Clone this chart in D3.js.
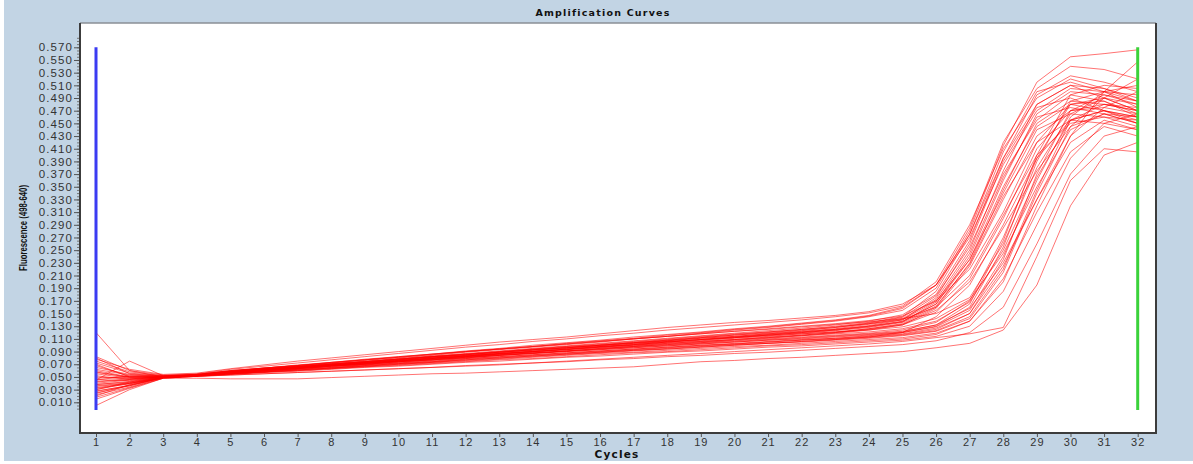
<!DOCTYPE html>
<html><head><meta charset="utf-8">
<script src="https://cdn.jsdelivr.net/npm/d3@7"></script>
<style>html,body{margin:0;padding:0;background:#fff;} svg{display:block}</style>
</head><body><svg id="c" width="1193" height="464"></svg>
<script>
// ---------- DATA ----------
const cycles = [1,2,3,4,5,6,7,8,9,10,11,12,13,14,15,16,17,18,19,20,21,22,23,24,25,26,27,28,29,30,31,32];
const yTickLabels = [0.010,0.030,0.050,0.070,0.090,0.110,0.130,0.150,0.170,0.190,0.210,0.230,0.250,0.270,0.290,0.310,0.330,0.350,0.370,0.390,0.410,0.430,0.450,0.470,0.490,0.510,0.530,0.550,0.570];
const titleText = "Amplification Curves";
const xTitle = "Cycles";
const yTitle = "Fluorescence (498-640)";

// early-rising wells
const curveA1  = [0.080,0.055,0.051,0.054,0.060,0.064,0.068,0.072,0.076,0.080,0.084,0.089,0.093,0.097,0.101,0.105,0.110,0.114,0.119,0.124,0.128,0.133,0.138,0.145,0.155,0.190,0.280,0.415,0.515,0.555,0.560,0.566];
const curveA2  = [0.070,0.050,0.050,0.053,0.059,0.063,0.067,0.071,0.075,0.079,0.083,0.087,0.091,0.095,0.099,0.103,0.107,0.111,0.115,0.119,0.123,0.127,0.132,0.138,0.148,0.180,0.265,0.395,0.495,0.525,0.515,0.500];
const curveA3  = [0.040,0.045,0.049,0.053,0.058,0.062,0.066,0.070,0.073,0.077,0.081,0.085,0.089,0.092,0.096,0.100,0.104,0.108,0.112,0.116,0.119,0.123,0.128,0.134,0.142,0.172,0.250,0.375,0.480,0.510,0.505,0.490];
const curveA4  = [0.030,0.042,0.050,0.052,0.057,0.061,0.064,0.068,0.072,0.075,0.079,0.083,0.086,0.090,0.094,0.098,0.101,0.105,0.109,0.113,0.116,0.120,0.124,0.130,0.138,0.165,0.240,0.360,0.465,0.500,0.495,0.480];
const curveA5  = [0.055,0.048,0.050,0.053,0.058,0.062,0.066,0.069,0.073,0.077,0.081,0.084,0.088,0.092,0.096,0.099,0.103,0.107,0.111,0.114,0.118,0.122,0.126,0.133,0.140,0.175,0.260,0.390,0.475,0.490,0.470,0.455];
const curveA6  = [0.020,0.038,0.049,0.052,0.056,0.060,0.063,0.067,0.070,0.074,0.077,0.081,0.084,0.088,0.091,0.095,0.098,0.102,0.105,0.109,0.112,0.116,0.120,0.126,0.134,0.160,0.230,0.345,0.450,0.485,0.480,0.470];
const curveA7  = [0.045,0.052,0.051,0.053,0.059,0.063,0.067,0.071,0.074,0.078,0.082,0.086,0.090,0.094,0.098,0.101,0.105,0.109,0.113,0.117,0.121,0.125,0.130,0.136,0.145,0.185,0.275,0.405,0.500,0.515,0.500,0.485];
const curveA8  = [0.035,0.040,0.050,0.052,0.057,0.061,0.065,0.068,0.072,0.076,0.079,0.083,0.087,0.090,0.094,0.098,0.101,0.105,0.109,0.112,0.116,0.120,0.124,0.129,0.137,0.168,0.245,0.365,0.460,0.475,0.465,0.450];
const curveA9  = [0.062,0.053,0.051,0.054,0.060,0.064,0.068,0.072,0.077,0.081,0.085,0.090,0.094,0.098,0.103,0.107,0.111,0.116,0.120,0.125,0.129,0.134,0.139,0.146,0.158,0.195,0.270,0.385,0.470,0.505,0.500,0.475];
const curveA10 = [0.028,0.036,0.049,0.052,0.056,0.060,0.063,0.067,0.070,0.073,0.077,0.080,0.084,0.087,0.091,0.094,0.098,0.101,0.104,0.108,0.111,0.115,0.119,0.124,0.132,0.158,0.225,0.330,0.430,0.470,0.475,0.465];
const curveA11 = [0.050,0.047,0.050,0.053,0.058,0.062,0.065,0.069,0.073,0.076,0.080,0.084,0.087,0.091,0.095,0.098,0.102,0.106,0.109,0.113,0.117,0.121,0.125,0.131,0.140,0.170,0.235,0.340,0.440,0.465,0.460,0.445];
const curveA12 = [0.075,0.058,0.052,0.054,0.060,0.064,0.069,0.073,0.078,0.082,0.086,0.091,0.095,0.100,0.104,0.108,0.113,0.117,0.121,0.126,0.130,0.135,0.140,0.147,0.160,0.195,0.285,0.420,0.505,0.540,0.535,0.520];
const curveA13 = [0.038,0.043,0.050,0.053,0.058,0.061,0.065,0.069,0.072,0.076,0.080,0.083,0.087,0.090,0.094,0.097,0.101,0.105,0.108,0.112,0.116,0.119,0.123,0.128,0.136,0.162,0.228,0.335,0.420,0.455,0.450,0.440];
const curveA14 = [0.048,0.050,0.050,0.053,0.059,0.063,0.066,0.070,0.074,0.078,0.082,0.085,0.089,0.093,0.097,0.100,0.104,0.108,0.112,0.116,0.120,0.124,0.128,0.135,0.144,0.178,0.255,0.370,0.455,0.495,0.485,0.460];
const curveA15 = [0.082,0.060,0.053,0.055,0.062,0.067,0.072,0.077,0.082,0.087,0.092,0.097,0.101,0.106,0.110,0.115,0.119,0.124,0.128,0.132,0.136,0.140,0.145,0.151,0.162,0.200,0.290,0.410,0.490,0.520,0.505,0.485];
const curveA16 = [0.078,0.062,0.054,0.056,0.063,0.069,0.075,0.080,0.085,0.090,0.095,0.100,0.105,0.109,0.113,0.118,0.123,0.128,0.132,0.136,0.139,0.143,0.147,0.153,0.165,0.195,0.275,0.395,0.480,0.510,0.490,0.470];
// mid-rising wells
const curveC1  = [0.052,0.046,0.050,0.053,0.057,0.061,0.065,0.068,0.072,0.075,0.079,0.082,0.086,0.089,0.093,0.096,0.099,0.103,0.106,0.109,0.113,0.116,0.120,0.125,0.132,0.152,0.205,0.300,0.410,0.470,0.480,0.470];
const curveC2  = [0.068,0.051,0.051,0.054,0.059,0.064,0.068,0.073,0.077,0.081,0.086,0.090,0.094,0.098,0.102,0.106,0.110,0.114,0.118,0.122,0.126,0.130,0.134,0.139,0.146,0.170,0.220,0.310,0.420,0.480,0.485,0.465];
const curveC3  = [0.024,0.037,0.049,0.052,0.055,0.058,0.061,0.064,0.067,0.070,0.073,0.076,0.079,0.082,0.085,0.088,0.091,0.094,0.097,0.100,0.103,0.106,0.109,0.113,0.120,0.145,0.195,0.290,0.395,0.455,0.470,0.460];
const curveC4  = [0.060,0.050,0.050,0.053,0.058,0.062,0.066,0.070,0.074,0.078,0.082,0.086,0.090,0.094,0.098,0.102,0.106,0.110,0.114,0.118,0.121,0.125,0.129,0.134,0.141,0.160,0.210,0.305,0.400,0.450,0.460,0.455];
const curveC5  = [0.072,0.056,0.052,0.054,0.059,0.064,0.068,0.073,0.077,0.082,0.086,0.090,0.094,0.098,0.102,0.106,0.110,0.114,0.118,0.122,0.125,0.129,0.133,0.137,0.142,0.150,0.175,0.260,0.380,0.465,0.490,0.480];
const curveC6  = [0.018,0.033,0.048,0.051,0.054,0.057,0.059,0.062,0.065,0.067,0.070,0.073,0.075,0.078,0.081,0.083,0.086,0.089,0.091,0.094,0.097,0.099,0.102,0.105,0.108,0.114,0.130,0.185,0.290,0.395,0.450,0.465];
const curveC7  = [0.043,0.047,0.050,0.052,0.057,0.060,0.064,0.068,0.071,0.075,0.079,0.082,0.086,0.090,0.093,0.097,0.100,0.104,0.107,0.111,0.114,0.118,0.121,0.126,0.133,0.155,0.200,0.285,0.375,0.445,0.465,0.460];
const curveC8  = [0.032,0.039,0.049,0.052,0.055,0.058,0.062,0.065,0.068,0.071,0.074,0.078,0.081,0.084,0.087,0.090,0.093,0.096,0.099,0.102,0.105,0.108,0.111,0.115,0.120,0.129,0.155,0.240,0.360,0.460,0.500,0.510];
const curveC9  = [0.038,0.042,0.049,0.051,0.053,0.055,0.057,0.059,0.061,0.063,0.065,0.068,0.070,0.072,0.074,0.077,0.079,0.082,0.084,0.087,0.089,0.092,0.095,0.098,0.101,0.107,0.120,0.160,0.260,0.370,0.430,0.445];
const curveC10 = [0.057,0.050,0.051,0.053,0.058,0.062,0.066,0.070,0.074,0.078,0.082,0.085,0.089,0.093,0.096,0.100,0.104,0.107,0.111,0.114,0.118,0.121,0.125,0.130,0.137,0.165,0.235,0.350,0.445,0.480,0.470,0.450];
// later-rising wells
const curveB1  = [0.033,0.040,0.049,0.052,0.056,0.060,0.063,0.067,0.070,0.074,0.077,0.081,0.084,0.087,0.090,0.093,0.096,0.099,0.102,0.105,0.108,0.110,0.113,0.116,0.120,0.130,0.160,0.255,0.390,0.485,0.500,0.495];
const curveB2  = [0.025,0.036,0.049,0.052,0.055,0.059,0.062,0.065,0.069,0.072,0.075,0.079,0.082,0.085,0.088,0.091,0.094,0.097,0.100,0.102,0.105,0.108,0.110,0.113,0.117,0.125,0.150,0.235,0.370,0.470,0.495,0.485];
const curveB3  = [0.042,0.046,0.050,0.052,0.056,0.060,0.064,0.067,0.071,0.074,0.078,0.081,0.085,0.088,0.091,0.094,0.097,0.100,0.103,0.106,0.109,0.112,0.115,0.118,0.122,0.132,0.165,0.265,0.400,0.495,0.510,0.505];
const curveB4  = [0.015,0.032,0.048,0.051,0.055,0.058,0.061,0.064,0.067,0.070,0.073,0.077,0.080,0.083,0.086,0.089,0.092,0.094,0.097,0.100,0.103,0.105,0.108,0.111,0.115,0.122,0.142,0.215,0.340,0.445,0.490,0.520];
const curveB5  = [0.045,0.075,0.052,0.053,0.057,0.061,0.064,0.068,0.071,0.075,0.078,0.082,0.085,0.088,0.091,0.095,0.098,0.101,0.104,0.107,0.110,0.113,0.116,0.119,0.124,0.136,0.170,0.270,0.395,0.480,0.490,0.470];
const curveB6  = [0.005,0.030,0.048,0.051,0.054,0.057,0.060,0.063,0.066,0.069,0.072,0.075,0.078,0.081,0.084,0.087,0.089,0.092,0.095,0.098,0.100,0.103,0.106,0.109,0.112,0.119,0.138,0.200,0.320,0.430,0.500,0.547];
const curveB7  = [0.058,0.049,0.050,0.053,0.057,0.061,0.065,0.069,0.072,0.076,0.080,0.083,0.087,0.090,0.093,0.097,0.100,0.103,0.106,0.109,0.112,0.115,0.118,0.121,0.126,0.138,0.168,0.250,0.365,0.455,0.480,0.475];
const curveB8  = [0.022,0.034,0.049,0.052,0.055,0.058,0.061,0.064,0.068,0.071,0.074,0.077,0.080,0.083,0.086,0.089,0.092,0.095,0.098,0.101,0.103,0.106,0.109,0.112,0.116,0.123,0.145,0.220,0.345,0.455,0.470,0.460];
const curveB9  = [0.065,0.054,0.051,0.053,0.057,0.062,0.066,0.070,0.074,0.078,0.082,0.086,0.089,0.093,0.096,0.100,0.103,0.106,0.109,0.112,0.115,0.118,0.121,0.124,0.129,0.142,0.172,0.245,0.350,0.440,0.465,0.450];
const curveB10 = [0.036,0.041,0.049,0.052,0.056,0.059,0.063,0.066,0.069,0.072,0.076,0.079,0.082,0.085,0.088,0.091,0.094,0.097,0.100,0.103,0.106,0.109,0.111,0.114,0.118,0.127,0.150,0.225,0.330,0.420,0.455,0.440];
const curveB11 = [0.027,0.037,0.049,0.052,0.055,0.058,0.060,0.063,0.066,0.068,0.071,0.074,0.077,0.079,0.082,0.085,0.088,0.090,0.093,0.096,0.099,0.101,0.104,0.107,0.110,0.117,0.138,0.205,0.310,0.405,0.445,0.430];
const curveB12 = [0.046,0.044,0.050,0.052,0.056,0.060,0.063,0.067,0.070,0.074,0.077,0.080,0.084,0.087,0.090,0.093,0.096,0.099,0.102,0.105,0.108,0.111,0.114,0.117,0.121,0.132,0.158,0.230,0.330,0.430,0.475,0.500];
// lowest wells
const curveL1  = [0.030,0.040,0.048,0.048,0.047,0.047,0.047,0.049,0.051,0.053,0.055,0.056,0.058,0.060,0.062,0.064,0.066,0.070,0.074,0.076,0.079,0.081,0.084,0.087,0.090,0.096,0.103,0.124,0.195,0.320,0.400,0.420];
const curveL2  = [0.120,0.060,0.050,0.051,0.053,0.055,0.057,0.059,0.061,0.063,0.065,0.067,0.069,0.072,0.075,0.078,0.081,0.084,0.087,0.090,0.093,0.096,0.099,0.102,0.106,0.112,0.118,0.128,0.240,0.360,0.410,0.405];

const series = [curveA1,curveA2,curveA3,curveA4,curveA5,curveA6,curveA7,curveA8,curveA9,curveA10,curveA11,curveA12,curveA13,curveA14,curveA15,curveA16,
  curveC1,curveC2,curveC3,curveC4,curveC5,curveC6,curveC7,curveC8,curveC9,curveC10,
  curveB1,curveB2,curveB3,curveB4,curveB5,curveB6,curveB7,curveB8,curveB9,curveB10,curveB11,curveB12,curveL1,curveL2];

// ---------- LAYOUT ----------
const frame = {left:80, top:23, right:1156, bottom:433};
const svg = d3.select('#c');
svg.append('rect').attr('x',4).attr('y',0).attr('width',1189).attr('height',461).attr('fill','#c2d4e4');
svg.append('rect').attr('x',frame.left).attr('y',frame.top)
  .attr('width',frame.right-frame.left).attr('height',frame.bottom-frame.top).attr('fill','#ffffff');

const x = d3.scaleLinear().domain([1,32]).range([96,1137.7]);
const y = d3.scaleLinear().domain([0.01,0.57]).range([402.3,47.3]);

// minor y ticks
const minor = d3.range(0,0.5851,0.005);
svg.append('g').attr('transform',`translate(${frame.left},0)`)
  .call(d3.axisLeft(y).tickValues(minor).tickSize(3).tickFormat(''))
  .call(g=>g.select('.domain').remove())
  .call(g=>g.selectAll('line').attr('stroke','#777'));
// major y ticks
svg.append('g').attr('transform',`translate(${frame.left},0)`)
  .call(d3.axisLeft(y).tickValues(yTickLabels).tickSize(6).tickPadding(1).tickFormat(d3.format('.3f')))
  .call(g=>g.select('.domain').remove())
  .call(g=>g.selectAll('line').attr('stroke','#555'))
  .call(g=>g.selectAll('text').attr('fill','#333').attr('font-family','Liberation Sans, Arial, sans-serif')
     .attr('font-size',11.5).attr('letter-spacing','1.1px'));

// x axis
svg.append('g').attr('transform',`translate(0,${frame.bottom})`)
  .call(d3.axisBottom(x).tickValues(cycles).tickSize(4).tickPadding(1).tickFormat(d3.format('d')))
  .call(g=>g.select('.domain').remove())
  .call(g=>g.selectAll('line').attr('stroke','#555'))
  .call(g=>g.selectAll('text').attr('fill','#333').attr('font-family','Liberation Sans, Arial, sans-serif')
     .attr('font-size',11).attr('letter-spacing','1px'));

// curves
const line = d3.line().x((d,i)=>x(cycles[i])).y(d=>y(d));
svg.append('g').selectAll('path').data(series).join('path')
  .attr('d',line).attr('fill','none').attr('stroke','#ff0000')
  .attr('stroke-opacity',0.55).attr('stroke-width',1);

// marker bars
svg.append('line').attr('x1',x(1)).attr('x2',x(1)).attr('y1',y(0.57)).attr('y2',y(-0.002))
  .attr('stroke','#3b3bf2').attr('stroke-width',3);
svg.append('line').attr('x1',x(32)).attr('x2',x(32)).attr('y1',y(0.57)).attr('y2',y(-0.002))
  .attr('stroke','#3ad23a').attr('stroke-width',3);

// frame borders
svg.append('line').attr('x1',frame.left).attr('x2',frame.right).attr('y1',frame.top).attr('y2',frame.top).attr('stroke','#8a8f96').attr('stroke-width',1.5);
svg.append('line').attr('x1',frame.left).attr('x2',frame.left).attr('y1',frame.top).attr('y2',frame.bottom+1).attr('stroke','#3c3c3c').attr('stroke-width',2);
svg.append('line').attr('x1',frame.left).attr('x2',frame.right+1).attr('y1',frame.bottom).attr('y2',frame.bottom).attr('stroke','#3c3c3c').attr('stroke-width',2);
svg.append('line').attr('x1',frame.right).attr('x2',frame.right).attr('y1',frame.top).attr('y2',frame.bottom+1).attr('stroke','#3c3c3c').attr('stroke-width',2);

// titles
svg.append('text').attr('x',603).attr('y',16).attr('text-anchor','middle')
  .attr('font-family','DejaVu Sans, Arial, sans-serif').attr('font-weight','bold').attr('font-size',9.5)
  .attr('letter-spacing','1.2px').attr('fill','#111').text(titleText);
svg.append('text').attr('x',617).attr('y',458).attr('text-anchor','middle')
  .attr('font-family','DejaVu Sans, Arial, sans-serif').attr('font-weight','bold').attr('font-size',10.5)
  .attr('letter-spacing','1.2px').attr('fill','#111').text(xTitle);
svg.append('text').attr('transform','translate(27,228) rotate(-90)').attr('text-anchor','middle')
  .attr('font-family','Liberation Sans Narrow, Liberation Sans, Arial, sans-serif').attr('font-weight','bold').attr('font-size',11)
  .attr('textLength',86).attr('lengthAdjust','spacingAndGlyphs').attr('fill','#111').text(yTitle);
</script></body></html>
